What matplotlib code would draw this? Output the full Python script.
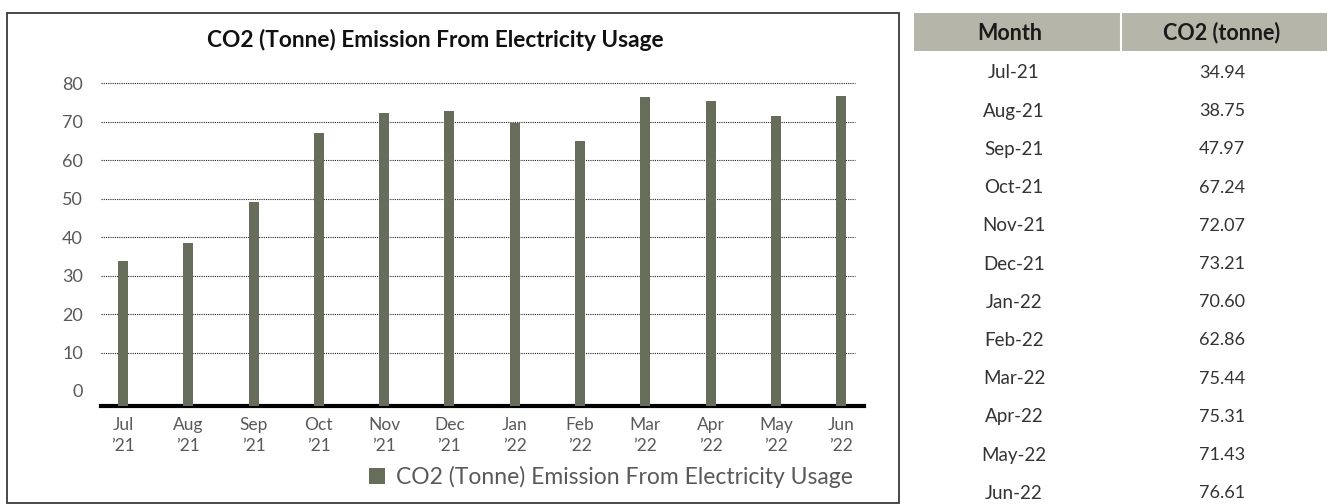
import matplotlib.pyplot as plt
from matplotlib.patches import Rectangle

# ---- data ----
months = ["Jul", "Aug", "Sep", "Oct", "Nov", "Dec", "Jan", "Feb", "Mar", "Apr", "May", "Jun"]
years = ["21", "21", "21", "21", "21", "21", "22", "22", "22", "22", "22", "22"]
co2_bars = [33.8, 38.4, 49.1, 67.0, 72.2, 72.7, 69.7, 64.9, 76.4, 75.3, 71.4, 76.6]

table_months = ["Jul-21", "Aug-21", "Sep-21", "Oct-21", "Nov-21", "Dec-21",
                "Jan-22", "Feb-22", "Mar-22", "Apr-22", "May-22", "Jun-22"]
table_co2 = [34.94, 38.75, 47.97, 67.24, 72.07, 73.21, 70.60, 62.86, 75.44, 75.31, 71.43, 76.61]

yticks = [0, 10, 20, 30, 40, 50, 60, 70, 80]
title = "CO2 (Tonne) Emission From Electricity Usage"

BAR_COLOR = "#666d5a"
TEXT_GRAY = "#595959"
W, H = 1330, 504

plt.rcParams["font.family"] = ["Lato", "DejaVu Sans"]

fig = plt.figure(figsize=(W / 100, H / 100), dpi=100)


def fx(px):
    return px / W


def fy(py):
    return 1 - py / H


# ---- chart box ----
fig.patches.append(Rectangle((fx(7), fy(503)), fx(892), (490) / H, transform=fig.transFigure,
                             fill=False, edgecolor="#3a3a3a", linewidth=1.3))

# ---- bar chart ----
y_floor = -3.9
ax = fig.add_axes([fx(101), fy(406), fx(763), (406 - 75.6) / H])
x = list(range(len(months)))
ax.bar(x, [v - y_floor for v in co2_bars], bottom=y_floor, width=0.155, color=BAR_COLOR,
       label=title, zorder=3)
ax.set_xlim(-0.337, 11.35)
ax.set_ylim(y_floor, 82)

# dotted gridlines (skip 0, the thick base line sits under it)
ax.hlines([t for t in yticks if t > 0], -0.337, 11.21, colors="#222222",
          linestyles=(0, (1, 1)), linewidth=0.8, zorder=1)

for s in ["top", "right", "left"]:
    ax.spines[s].set_visible(False)
ax.spines["bottom"].set_linewidth(3)
ax.spines["bottom"].set_color("black")

ax.set_yticks(yticks)
ax.set_yticklabels([str(t) for t in yticks], fontsize=13, color=TEXT_GRAY)
ax.set_xticks(x)
ax.set_xticklabels([f"{m}\n\u2019{y}" for m, y in zip(months, years)], fontsize=12.5,
                   color=TEXT_GRAY, linespacing=1.35)
ax.tick_params(axis="y", length=0, pad=13)
ax.tick_params(axis="x", length=0, pad=8)

fig.text(fx(435), fy(40), title, ha="center", va="center", fontsize=16.3,
         fontweight="bold", color="#111111")

leg = ax.legend(loc="center right", bbox_to_anchor=(fx(864), fy(477)),
                bbox_transform=fig.transFigure, frameon=False, fontsize=16.5,
                handlelength=0.72, handleheight=0.72, handletextpad=0.45, borderpad=0)
for t in leg.get_texts():
    t.set_color(TEXT_GRAY)

# ---- table ----
tbl_left, tbl_right, col_split = 914, 1327, 1121
fig.patches.append(Rectangle((fx(tbl_left), fy(51)), fx(tbl_right - tbl_left), 38 / H,
                             transform=fig.transFigure, facecolor="#b5b5aa", edgecolor="none"))
fig.add_artist(plt.Line2D([fx(col_split), fx(col_split)], [fy(51), fy(13)],
                          transform=fig.transFigure, color="white", linewidth=1.5))

col1_x, col2_x = 1010, 1222
fig.text(fx(col1_x), fy(33), "Month", ha="center", va="center", fontsize=15.5,
         fontweight="bold", color="#1a1a1a")
fig.text(fx(col2_x), fy(33), "CO2 (tonne)", ha="center", va="center", fontsize=15.5,
         fontweight="bold", color="#1a1a1a")

for i, (m, v) in enumerate(zip(table_months, table_co2)):
    ty = fy(73 + 38.2 * i)
    fig.text(fx(col1_x + 4), ty, m, ha="center", va="center", fontsize=13.5,
             color="#333333")
    fig.text(fx(col2_x), ty, f"{v:.2f}", ha="center", va="center", fontsize=13,
             color="#333333")

fig.savefig("out.png", dpi=100)
